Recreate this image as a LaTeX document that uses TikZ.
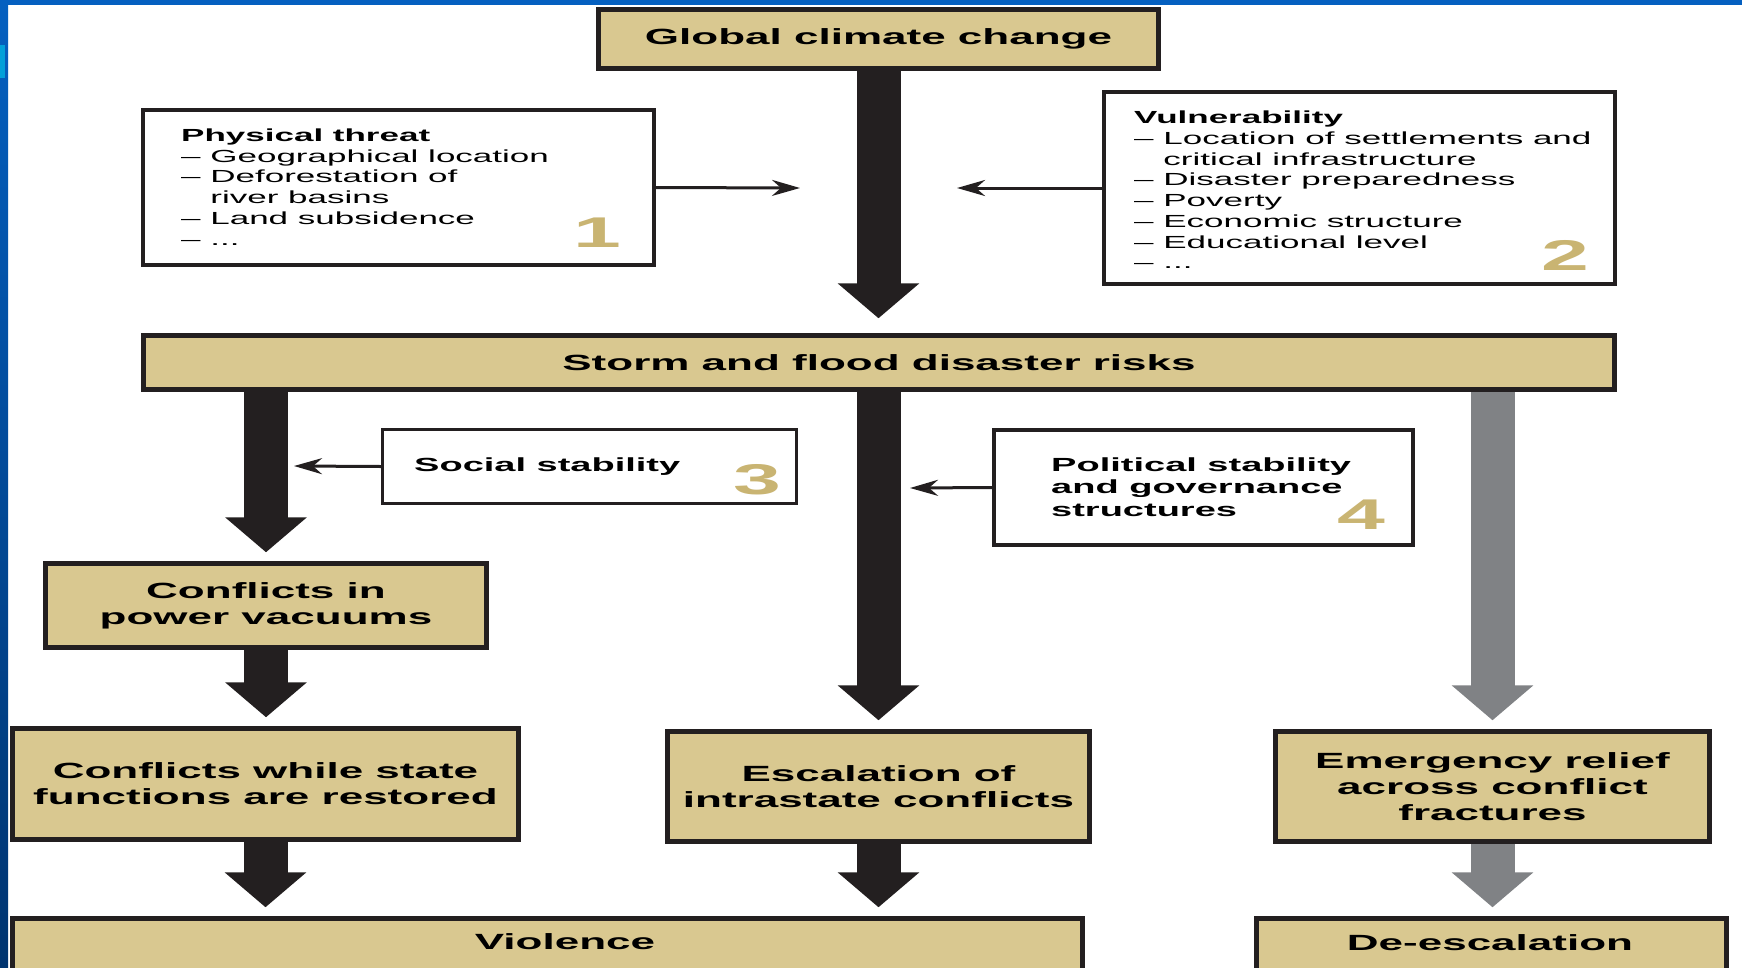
\documentclass[tikz,border=0pt]{standalone}
\usepackage{fontspec}
\setmainfont{Liberation Sans}[FakeStretch=2.0]
\usepackage{tikz}
\usetikzlibrary{arrows.meta, calc, positioning}
\definecolor{tan}{RGB}{217,200,144}
\definecolor{ink}{RGB}{35,31,32}
\definecolor{gold}{RGB}{201,180,114}
\definecolor{relief}{RGB}{128,130,133}
\definecolor{slide}{RGB}{5,96,192}
\definecolor{slidedark}{RGB}{0,52,112}

\begin{document}
\begin{tikzpicture}[x=1pt, y=-1pt,
    box/.style={draw=ink, line width=4.5pt, fill=tan, inner sep=0pt, align=center,
        font=\bfseries\fontsize{22}{26}\selectfont},
    info/.style={draw=ink, line width=4pt, fill=white, inner sep=0pt},
    list/.style={inner sep=0pt, align=left, anchor=west, font=\fontsize{17.5}{20.7}\selectfont},
    num/.style={inner sep=0pt, text=gold, font=\bfseries\fontsize{43}{43}\selectfont},
    fat/.style={draw=ink, line width=44pt, -{Triangle[length=35pt,width=80pt]}, shorten >=9pt},
    thin/.style={draw=ink, line width=3pt, -{Stealth[length=28pt,width=16pt,inset=9pt]}}]
                        \useasboundingbox (0,0) rectangle (1742,967);
                        \clip (0,0) rectangle (1742,967);
                        \fill[white] (0,0) rectangle (1742,967);
                        \fill[slide] (0,0) rectangle (1742,5);
                        \shade[top color=slide, bottom color=slidedark] (0,0) rectangle (8,967);
                        \fill[slide!60!cyan] (0,45) rectangle (5,78);

                        % boxes
                        \node[box, minimum width=560pt, minimum height=59pt] (gcc) at (878.5,39) {Global climate change};
                        \node[info, minimum width=511pt, minimum height=155pt] (phys) at (398.5,187.5) {};
                        \node[info, minimum width=511pt, minimum height=192pt] (vuln) at (1359.5,188) {};
                        \node[box, minimum width=1471pt, minimum height=54pt] (storm) at (879,362.5) {Storm and flood disaster risks};
                        \node[info, line width=2.5pt, minimum width=414pt, minimum height=74pt] (social) at (589.5,466.5) {};
                        \node[info, minimum width=419pt, minimum height=115pt] (polit) at (1203.5,487.5) {};
                        \node[box, minimum width=441pt, minimum height=84pt] (vac) at (266,605.5) {Conflicts in\\power vacuums};
                        \node[box, minimum width=506pt, minimum height=111pt] (state) at (265.5,784) {Conflicts while state\\functions are restored};
                        \node[box, minimum width=422pt, minimum height=110pt] (esc) at (878.5,786.5) {Escalation of\\intrastate conflicts};
                        \node[box, minimum width=434pt, minimum height=110pt] (relief) at (1492.5,786.5) {Emergency relief\\across conflict\\fractures};
                        \node[box, minimum width=1070pt, minimum height=69pt] (viol) at (547.5,953) {};
                        \node[inner sep=0pt, font=\bfseries\fontsize{22}{26}\selectfont] (violtext) at (565,942) {Violence};
                        \node[box, minimum width=470pt, minimum height=69pt] (deesc) at (1491.5,953) {};
                        \node[inner sep=0pt, font=\bfseries\fontsize{22}{26}\selectfont] (deesctext) at (1490,943) {De-escalation};

                        % box texts
                        \node[list] (physlist) at (181,187) {\textbf{Physical threat}\\
                            – Geographical location\\
                            – Deforestation of\\
                            \hphantom{– }river basins\\
                            – Land subsidence\\
                            – ...};
                        \node[list] (vulnlist) at (1134,190) {\textbf{Vulnerability}\\
                            – Location of settlements and\\
                            \hphantom{– }critical infrastructure\\
                            – Disaster preparedness\\
                            – Poverty\\
                            – Economic structure\\
                            – Educational level\\
                            – ...};
                        \node[list, font=\bfseries\fontsize{19}{22}\selectfont] (socialtext) at (414,467) {Social stability};
                        \node[list, font=\bfseries\fontsize{19}{22.5}\selectfont] (polittext) at (1051,487) {Political stability\\and governance\\structures};
                        \node[num] (n1) at (597,233) {1};
                        \node[num] (n2) at (1565,255) {2};
                        \node[num] (n3) at (757,480) {3};
                        \node[num] (n4) at (1361,515) {4};

                        % arrow ends
                        \coordinate (physin) at (800,188);
                        \coordinate (vulnin) at (957,188);
                        \coordinate (socialin) at (294,466);
                        \coordinate (politin) at (910,488);

                        \draw[thin] (phys.east) -- (physin);
                        \draw[thin] (vuln.west) -- (vulnin);
                        \draw[thin] (social.west) -- (socialin);
                        \draw[thin] (polit.west) -- (politin);

                        \draw[fat, shorten >=15pt] (gcc.south) -- (gcc.south |- storm.north);
                        \draw[fat] (vac.north |- storm.south) -- (vac.north);
                        \draw[fat] (vac.south) -- (vac.south |- state.north);
                        \draw[fat] (state.south) -- (state.south |- viol.north);
                        \draw[fat] (esc.north |- storm.south) -- (esc.north);
                        \draw[fat] (esc.south) -- (esc.south |- viol.north);
                        \draw[fat, draw=relief] (relief.north |- storm.south) -- (relief.north);
                        \draw[fat, draw=relief] (relief.south) -- (relief.south |- deesc.north);
                    \end{tikzpicture}
\end{document}
